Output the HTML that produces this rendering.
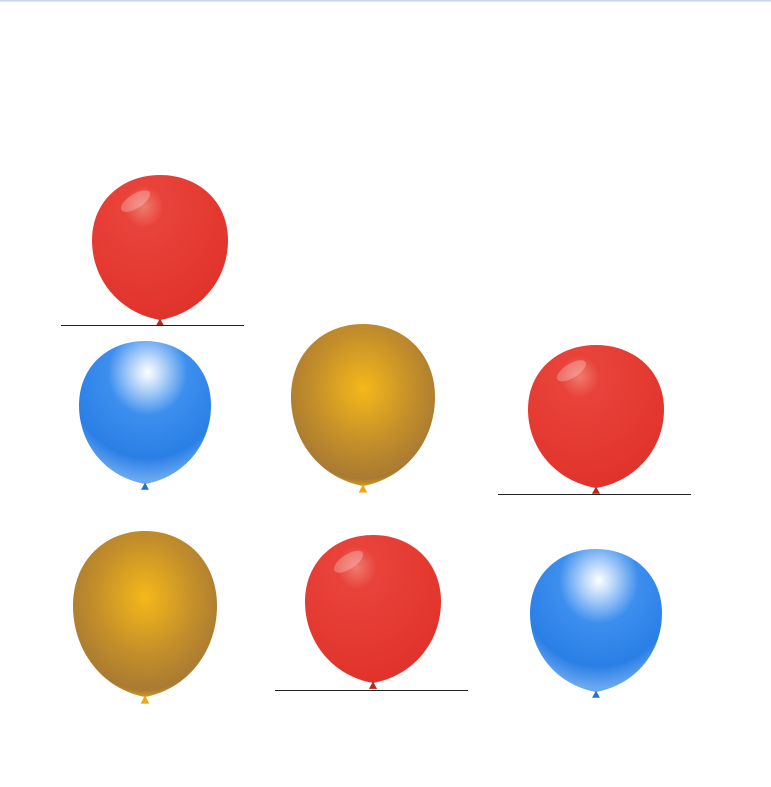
<!DOCTYPE html>
<html>
<head>
<meta charset="utf-8">
<style>
html,body{margin:0;padding:0;background:#fff;}
svg{display:block;}
</style>
</head>
<body>
<svg width="771" height="787" viewBox="0 0 771 787" xmlns="http://www.w3.org/2000/svg">
<defs>
  <radialGradient id="gRed" cx="0.38" cy="0.22" r="0.8">
    <stop offset="0" stop-color="#f07a6e"/>
    <stop offset="0.18" stop-color="#e8433a"/>
    <stop offset="1" stop-color="#e0322a"/>
  </radialGradient>
  <radialGradient id="gBlue" cx="0.52" cy="0.22" r="0.75">
    <stop offset="0" stop-color="#ffffff"/>
    <stop offset="0.15" stop-color="#b9d7fa"/>
    <stop offset="0.4" stop-color="#3d8fee"/>
    <stop offset="0.8" stop-color="#2a7fe6"/>
    <stop offset="1" stop-color="#6aa8f0"/>
  </radialGradient>
  <radialGradient id="gGold" cx="0.5" cy="0.4" r="0.62">
    <stop offset="0" stop-color="#f5b81a"/>
    <stop offset="0.55" stop-color="#c48f2a"/>
    <stop offset="0.9" stop-color="#a97a32"/>
    <stop offset="1" stop-color="#e8a915"/>
  </radialGradient>
  <g id="shape">
    <path d="M50,100 C20,95 0,72 0,45 C0,18 22,0 50,0 C78,0 100,18 100,45 C100,72 80,95 50,100 Z"/>
  </g>
</defs>
<rect x="0" y="0" width="771" height="1.5" fill="#c8d6e8"/>

<g transform="translate(92,175) scale(1.36,1.45)">
  <use href="#shape" fill="url(#gRed)"/>
  <ellipse cx="32" cy="18" rx="12" ry="5" fill="#fff" opacity="0.25" transform="rotate(-30 32 18)"/>
  <path d="M47,104 L50,99 L53,104 Z" fill="#b02a20"/>
</g>
<line x1="61" y1="325.5" x2="244" y2="325.5" stroke="#222" stroke-width="1"/>

<g transform="translate(79,341) scale(1.32,1.43)">
  <use href="#shape" fill="url(#gBlue)"/>
  <path d="M47,104 L50,99 L53,104 Z" fill="#2a6fd0"/>
</g>

<g transform="translate(291,324) scale(1.44,1.62)">
  <use href="#shape" fill="url(#gGold)"/>
  <path d="M47,104 L50,99 L53,104 Z" fill="#e8a915"/>
</g>

<g transform="translate(528,345) scale(1.36,1.43)">
  <use href="#shape" fill="url(#gRed)"/>
  <ellipse cx="32" cy="18" rx="12" ry="5" fill="#fff" opacity="0.25" transform="rotate(-30 32 18)"/>
  <path d="M47,104 L50,99 L53,104 Z" fill="#b02a20"/>
</g>
<line x1="498" y1="494.5" x2="691" y2="494.5" stroke="#222" stroke-width="1"/>

<g transform="translate(73,531) scale(1.44,1.66)">
  <use href="#shape" fill="url(#gGold)"/>
  <path d="M47,104 L50,99 L53,104 Z" fill="#e8a915"/>
</g>

<g transform="translate(305,535) scale(1.36,1.48)">
  <use href="#shape" fill="url(#gRed)"/>
  <ellipse cx="32" cy="18" rx="12" ry="5" fill="#fff" opacity="0.25" transform="rotate(-30 32 18)"/>
  <path d="M47,104 L50,99 L53,104 Z" fill="#b02a20"/>
</g>
<line x1="275" y1="690.5" x2="468" y2="690.5" stroke="#222" stroke-width="1"/>

<g transform="translate(530,549) scale(1.32,1.43)">
  <use href="#shape" fill="url(#gBlue)"/>
  <path d="M47,104 L50,99 L53,104 Z" fill="#2a6fd0"/>
</g>
</svg>
</body>
</html>
